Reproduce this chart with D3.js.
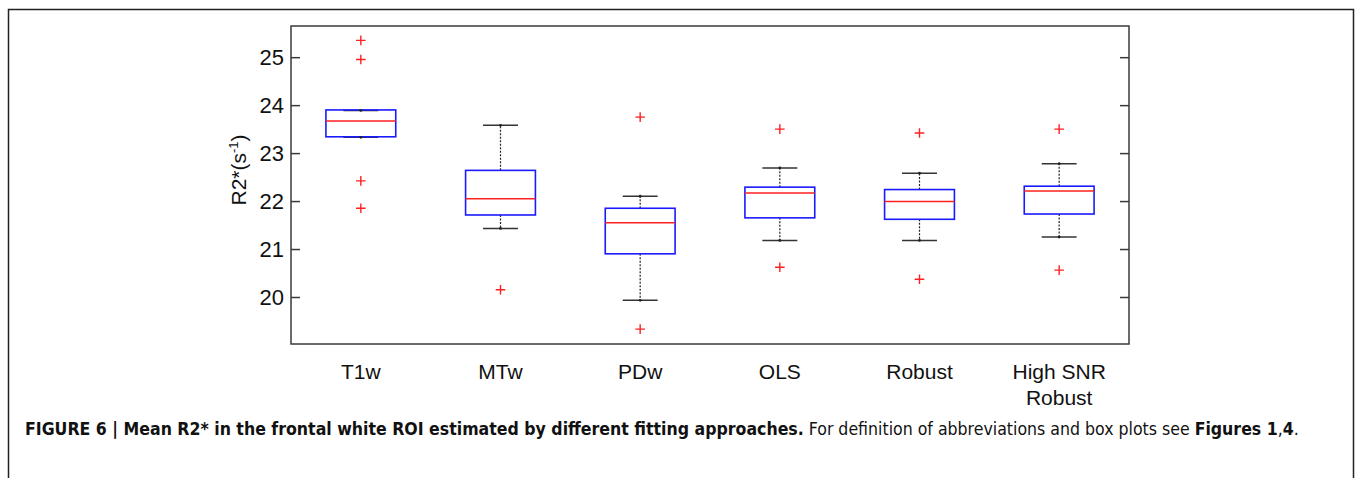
<!DOCTYPE html>
<html>
<head>
<meta charset="utf-8">
<script src="https://cdn.jsdelivr.net/npm/d3@7"></script>
<style>
  body { margin: 0; background: #fff; }
  text { font-family: "Liberation Sans", Arial, sans-serif; fill: #111; }
</style>
</head>
<body>
<svg id="chart"></svg>
<script>
// Box plot data
const categories = ['T1w', 'MTw', 'PDw', 'OLS', 'Robust', 'High SNR|Robust'];
const whiskerLow  = [23.33, 21.43, 19.93, 21.18, 21.18, 21.25];
const q1          = [23.34, 21.71, 20.90, 21.65, 21.62, 21.73];
const medians     = [23.67, 22.05, 21.55, 22.17, 21.99, 22.21];
const q3          = [23.90, 22.64, 21.85, 22.29, 22.24, 22.31];
const whiskerHigh = [23.89, 23.58, 22.10, 22.69, 22.58, 22.78];
const outliers    = [
  [25.35, 24.95, 22.42, 21.85],
  [20.15],
  [23.75, 19.33],
  [23.50, 20.62],
  [23.42, 20.37],
  [23.50, 20.56]
];
const yTicks = [20, 21, 22, 23, 24, 25];

// Chart dimensions
const W = 1357, H = 478;
const plot = { left: 291, right: 1129, top: 26, bottom: 344 };

const svg = d3.select('#chart')
  .attr('width', W)
  .attr('height', H);

// Outer figure frame (open at bottom)
svg.append('path')
  .attr('d', `M8.5,${H} V9.5 H1353.5 V${H}`)
  .attr('fill', 'none')
  .attr('stroke', '#222')
  .attr('stroke-width', 1.5);

// Scales
const xScale = d3.scaleBand()
  .domain(categories)
  .range([plot.left, plot.right]);

const yScale = d3.scaleLinear()
  .domain([19.02, 25.65])
  .range([plot.bottom, plot.top]);

const cx = c => xScale(c) + xScale.bandwidth() / 2;
const boxW = xScale.bandwidth() * 0.5;
const capW = xScale.bandwidth() * 0.25;

// Axes: ticks pointing inward on left and right, MATLAB style
const axisColor = '#3a3a3a';
svg.append('g')
  .attr('transform', `translate(${plot.left},0)`)
  .call(d3.axisRight(yScale).tickValues(yTicks).tickSize(9).tickFormat(''))
  .call(g => g.select('.domain').remove())
  .call(g => g.selectAll('line').attr('stroke', axisColor).attr('stroke-width', 1.5));

svg.append('g')
  .attr('transform', `translate(${plot.right},0)`)
  .call(d3.axisLeft(yScale).tickValues(yTicks).tickSize(9).tickFormat(''))
  .call(g => g.select('.domain').remove())
  .call(g => g.selectAll('line').attr('stroke', axisColor).attr('stroke-width', 1.5));

// Tick labels
svg.append('g')
  .selectAll('text')
  .data(yTicks)
  .enter()
  .append('text')
  .attr('x', plot.left - 7)
  .attr('y', d => yScale(d))
  .attr('dy', '0.36em')
  .attr('text-anchor', 'end')
  .style('font-size', '22px')
  .text(d => d);

// Plot frame
svg.append('rect')
  .attr('x', plot.left)
  .attr('y', plot.top)
  .attr('width', plot.right - plot.left)
  .attr('height', plot.bottom - plot.top)
  .attr('fill', 'none')
  .attr('stroke', axisColor)
  .attr('stroke-width', 1.5);

// Y axis title
const yTitle = svg.append('text')
  .attr('transform', `translate(246,170) rotate(-90)`)
  .attr('text-anchor', 'middle')
  .style('font-size', '21px');
yTitle.append('tspan').text('R2*(s');
yTitle.append('tspan').attr('dy', -8).style('font-size', '13px').text('-1');
yTitle.append('tspan').attr('dy', 8).text(')');

// Category labels
svg.append('g')
  .selectAll('text')
  .data(categories)
  .enter()
  .append('text')
  .attr('x', d => cx(d))
  .attr('y', 379)
  .attr('text-anchor', 'middle')
  .style('font-size', '21px')
  .each(function (d) {
    const lines = d.split('|');
    d3.select(this).selectAll('tspan')
      .data(lines)
      .enter()
      .append('tspan')
      .attr('x', cx(d))
      .attr('dy', (l, i) => i === 0 ? 0 : 26)
      .text(l => l);
  });

const boxes = svg.append('g')
  .selectAll('g')
  .data(categories)
  .enter()
  .append('g');

// Whiskers (dashed)
boxes.append('line')
  .attr('x1', d => cx(d)).attr('x2', d => cx(d))
  .attr('y1', (d, i) => yScale(q3[i]))
  .attr('y2', (d, i) => yScale(whiskerHigh[i]))
  .attr('stroke', '#222').attr('stroke-width', 1.2)
  .attr('stroke-dasharray', '2,1.5');

boxes.append('line')
  .attr('x1', d => cx(d)).attr('x2', d => cx(d))
  .attr('y1', (d, i) => yScale(q1[i]))
  .attr('y2', (d, i) => yScale(whiskerLow[i]))
  .attr('stroke', '#222').attr('stroke-width', 1.2)
  .attr('stroke-dasharray', '2,1.5');

// Whisker caps
[whiskerHigh, whiskerLow].forEach(arr => {
  boxes.append('line')
    .attr('x1', d => cx(d) - capW / 2).attr('x2', d => cx(d) + capW / 2)
    .attr('y1', (d, i) => yScale(arr[i]))
    .attr('y2', (d, i) => yScale(arr[i]))
    .attr('stroke', '#333').attr('stroke-width', 1.5);
});

// Boxes
boxes.append('rect')
  .attr('x', d => cx(d) - boxW / 2)
  .attr('y', (d, i) => yScale(q3[i]))
  .attr('width', boxW)
  .attr('height', (d, i) => yScale(q1[i]) - yScale(q3[i]))
  .attr('fill', 'none')
  .attr('stroke', '#1a1aff')
  .attr('stroke-width', 1.6);

// Whisker end dots (visible where whisker meets box edge)
[whiskerHigh, whiskerLow].forEach(arr => {
  boxes.append('circle')
    .attr('cx', d => cx(d))
    .attr('cy', (d, i) => yScale(arr[i]))
    .attr('r', 1.4)
    .attr('fill', '#222');
});

// Medians
boxes.append('line')
  .attr('x1', d => cx(d) - boxW / 2).attr('x2', d => cx(d) + boxW / 2)
  .attr('y1', (d, i) => yScale(medians[i]))
  .attr('y2', (d, i) => yScale(medians[i]))
  .attr('stroke', '#ff2020').attr('stroke-width', 1.5);

// Outliers as red "+"
boxes.each(function (d, i) {
  d3.select(this).selectAll('path.out')
    .data(outliers[i])
    .enter()
    .append('path')
    .attr('class', 'out')
    .attr('d', v => {
      const x = cx(d), y = yScale(v), s = 4.8;
      return `M${x - s},${y}H${x + s}M${x},${y - s}V${y + s}`;
    })
    .attr('stroke', '#ff2020')
    .attr('stroke-width', 1.4);
});

// Caption
const caption = svg.append('text')
  .attr('x', 25)
  .attr('y', 435)
  .style('font-size', '17px')
  .style('font-family', '"Liberation Sans Narrow", "DejaVu Sans Condensed", "Liberation Sans", sans-serif');
caption.append('tspan').style('font-weight', 'bold')
  .text('FIGURE 6 | Mean R2* in the frontal white ROI estimated by different fitting approaches.');
caption.append('tspan').text(' For definition of abbreviations and box plots see ');
caption.append('tspan').style('font-weight', 'bold').text('Figures 1');
caption.append('tspan').text(',');
caption.append('tspan').style('font-weight', 'bold').text('4');
caption.append('tspan').text('.');

// Stretch caption to the printed width
const capLen = caption.node().getComputedTextLength();
const sx = 1275 / capLen;
caption.attr('transform', `translate(25,0) scale(${sx},1) translate(-25,0)`);
</script>
</body>
</html>
